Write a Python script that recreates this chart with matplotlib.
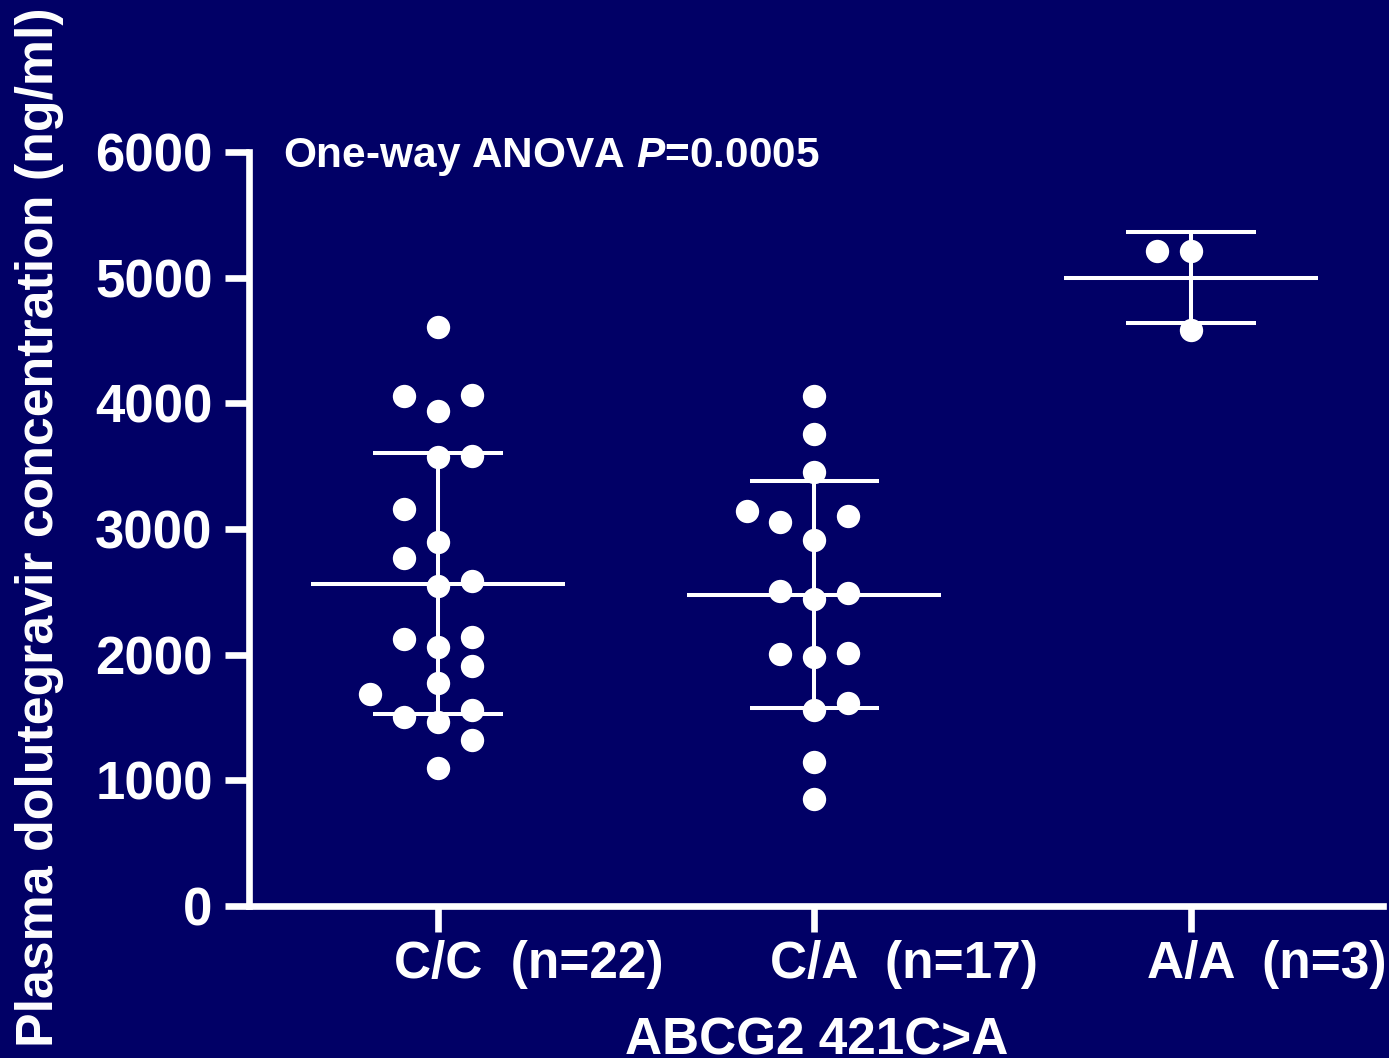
import numpy as np
import matplotlib
matplotlib.use("Agg")
import matplotlib.pyplot as plt
from matplotlib.font_manager import FontProperties
from matplotlib.transforms import ScaledTranslation, blended_transform_factory

# ---------------- data ----------------
genotypes = ["C/C", "C/A", "A/A"]
counts = ["(n=22)", "(n=17)", "(n=3)"]

cc_values = [4606, 4056, 4064, 3936, 3570, 3578, 3163, 2900, 2773, 2550, 2590,
             2127, 2064, 2143, 1912, 1777, 1689, 1506, 1466, 1562, 1323, 1100]
cc_slots = [0, -1, 1, 0, 0, 1, -1, 0, -1, 0, 1, -1, 0, 1, 1, 0, -2, -1, 0, 1, 1, 0]

ca_values = [4056, 3753, 3450, 3147, 3052, 3100, 2916, 2510, 2446, 2494,
             2008, 1984, 2016, 1618, 1562, 1147, 853]
ca_slots = [0, 0, 0, -2, -1, 1, 0, -1, 0, 1, -1, 0, 1, 1, 0, 0, 0]

aa_values = [5211, 5211, 4582]
aa_slots = [-1, 0, 0]

y_ticks = [0, 1000, 2000, 3000, 4000, 5000, 6000]
title_text = "One-way ANOVA $\\it{P}$=0.0005"
x_title = "ABCG2 421C>A"
y_title = "Plasma dolutegravir concentration (ng/ml)"

# ---------------- style ----------------
BG = "#010066"
FG = "white"
plt.rcParams["font.family"] = ["Liberation Sans", "DejaVu Sans"]
plt.rcParams["font.weight"] = "bold"
plt.rcParams["mathtext.fontset"] = "custom"
plt.rcParams["mathtext.rm"] = "Liberation Sans:bold"
plt.rcParams["mathtext.bf"] = "Liberation Sans:bold"
plt.rcParams["mathtext.it"] = "Liberation Sans:italic:bold"

FS = 37
slot_w = 0.09
mean_half = 0.337
sd_half = 0.172

fig = plt.figure(figsize=(13.89, 10.58), dpi=100, facecolor=BG)
ax = fig.add_axes([0.1796, 0.1437, 0.9957 - 0.1796, 0.8563 - 0.1437])
ax.set_facecolor(BG)

groups = [(cc_values, cc_slots), (ca_values, ca_slots), (aa_values, aa_slots)]
for i, (vals, slots) in enumerate(groups):
    vals = np.asarray(vals, dtype=float)
    xs = i + np.asarray(slots) * slot_w
    m = vals.mean()
    sd = vals.std(ddof=1)
    ax.vlines(i, m - sd, m + sd, color=FG, lw=2.9, zorder=2)
    ax.hlines([m - sd, m + sd], i - sd_half, i + sd_half, color=FG, lw=2.9, zorder=2)
    ax.hlines(m, i - mean_half, i + mean_half, color=FG, lw=2.9, zorder=2)
    ax.plot(xs, vals, "o", ms=16.8, mfc=FG, mec="none", zorder=3, clip_on=False)

ax.set_xlim(-0.5, 2.51)
ax.set_ylim(0, 6000)
ax.set_yticks(y_ticks)
ax.set_yticklabels([str(t) for t in y_ticks])
ax.set_xticks(range(len(genotypes)))
ax.set_xticklabels([""] * len(genotypes))

for s in ["top", "right"]:
    ax.spines[s].set_visible(False)
for s in ["left", "bottom"]:
    ax.spines[s].set_color(FG)
    ax.spines[s].set_linewidth(4.8)
    ax.spines[s].set_capstyle("projecting")

ax.tick_params(axis="y", colors=FG, length=17.5, width=4.8, pad=9, labelsize=38)
ax.tick_params(axis="x", colors=FG, length=18.5, width=4.8)
for lab in ax.get_yticklabels():
    lab.set_fontweight("bold")

# x category labels: genotype centred on tick, count follows
renderer = fig.canvas.get_renderer()
fp = FontProperties(family=["Liberation Sans", "DejaVu Sans"], weight="bold", size=FS)
xtrans = blended_transform_factory(ax.transData, ax.transAxes)
for i, (g, n) in enumerate(zip(genotypes, counts)):
    w, h, d = renderer.get_text_width_height_descent(g, fp, ismath=False)
    off = ScaledTranslation(-w / 2 / fig.dpi, -72 / fig.dpi, fig.dpi_scale_trans)
    ax.text(i, 0, g + "  " + n, transform=xtrans + off, ha="left", va="baseline",
            color=FG, fontproperties=fp, clip_on=False)

ax.set_xlabel(x_title, color=FG, fontsize=FS, fontweight="bold")
ax.xaxis.label.set_verticalalignment("baseline")
ax.xaxis.set_label_coords(0.5, -0.1976)

fig.text(40 / 1389, 1 - 527 / 1058, y_title, rotation=90, ha="center", va="center",
         color=FG, fontsize=37.4, fontweight="bold")

ax.text(0.0296, 0.980, title_text, transform=ax.transAxes, ha="left", va="baseline",
        color=FG, fontsize=30.5, fontweight="bold")

fig.savefig("out.png", dpi=100, facecolor=BG)
